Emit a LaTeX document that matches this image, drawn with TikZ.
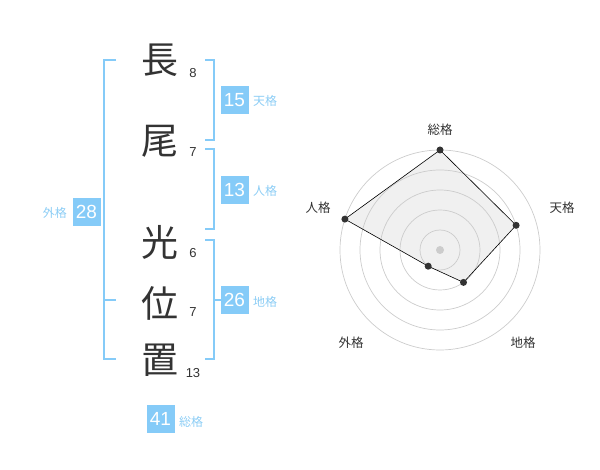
\documentclass[tikz,border=0pt]{standalone}
\usepackage{fontspec}
\setmainfont{Liberation Sans}
\newfontfamily\cjk{Noto Sans CJK JP}
\definecolor{boxblue}{RGB}{133,203,248}
\definecolor{lblblue}{RGB}{140,205,245}
\definecolor{ink}{RGB}{51,51,51}
\definecolor{ring}{RGB}{204,204,204}
\definecolor{area}{RGB}{240,240,240}
\tikzset{
  kanji/.style={font=\cjk\fontsize{37}{37}\selectfont, text=ink, inner sep=0pt},
  strokes/.style={font=\fontsize{13}{13}\selectfont, text=ink, inner sep=0pt},
  valbox/.style={fill=boxblue, text=white, font=\fontsize{19}{19}\selectfont, minimum width=28pt, minimum height=28pt, inner sep=0pt},
  kaku/.style={font=\cjk\fontsize{12}{12}\selectfont, text=lblblue, inner sep=0pt},
  brk/.style={draw=boxblue, line width=1.6pt},
  axislbl/.style={font=\cjk\fontsize{12.5}{12.5}\selectfont, text=ink, inner sep=0pt},
  ringc/.style={draw=ring, line width=0.7pt},
  dot/.style={circle, fill=ink, inner sep=0pt, minimum size=7pt},
}
\begin{document}
\begin{tikzpicture}[x=1pt, y=-1pt]
\useasboundingbox (0,0) rectangle (600,470);
% characters
\node[kanji] (c1) at (160,60) {長};
\node[kanji] (c2) at (160,141) {尾};
\node[kanji] (c3) at (160,242) {光};
\node[kanji] (c4) at (160,303) {位};
\node[kanji] (c5) at (160,360) {置};
\node[strokes] (s1) at (193,73) {8};
\node[strokes] (s2) at (193,152) {7};
\node[strokes] (s3) at (193,253) {6};
\node[strokes] (s4) at (193,312) {7};
\node[strokes] (s5) at (193,373) {13};
% brackets
\draw[brk] (116,60) -- (104,60) -- (104,359) -- (116,359);
\draw[brk] (104,300) -- (116,300);
\draw[brk] (205,60) -- (214,60) -- (214,140) -- (205,140);
\draw[brk] (205,149) -- (214,149) -- (214,229) -- (205,229);
\draw[brk] (205,240) -- (214,240) -- (214,359) -- (205,359);
\draw[brk] (214,300) -- (221,300);
% value boxes
\node[valbox] (b15) at (234.5,100.5) {15};
\node[kaku, anchor=west] (k15) at (253,101) {天格};
\node[valbox] (b13) at (234.5,190) {13};
\node[kaku, anchor=west] (k13) at (253,191) {人格};
\node[valbox] (b26) at (234.5,300) {26};
\node[kaku, anchor=west] (k26) at (253,302) {地格};
\node[valbox] (b28) at (86.5,212) {28};
\node[kaku, anchor=east] (k28) at (67,213) {外格};
\node[valbox] (b41) at (160.5,419) {41};
\node[kaku, anchor=west] (k41) at (179,422) {総格};
% radar chart
\coordinate (ctr) at (440,250);
\coordinate (pA) at (440,150);
\coordinate (pB) at (516.1,225.3);
\coordinate (pC) at (463.5,282.4);
\coordinate (pD) at (428.2,266.2);
\coordinate (pE) at (344.9,219.1);
\fill[area] (pA) -- (pB) -- (pC) -- (pD) -- (pE) -- cycle;
\foreach \r in {20,40,60,80,100} \draw[ringc] (ctr) circle (\r);
\fill[ring] (ctr) circle (4);
\draw[black, line width=0.6pt] (pA) -- (pB) -- (pC) -- (pD) -- (pE) -- cycle;
\foreach \p in {pA,pB,pC,pD,pE} \node[dot] (d\p) at (\p) {};
\node[axislbl] (lA) at (440,130) {総格};
\node[axislbl] (lB) at (562,208) {天格};
\node[axislbl] (lC) at (523,343) {地格};
\node[axislbl] (lD) at (351,343) {外格};
\node[axislbl] (lE) at (318,208) {人格};
\end{tikzpicture}
\end{document}
